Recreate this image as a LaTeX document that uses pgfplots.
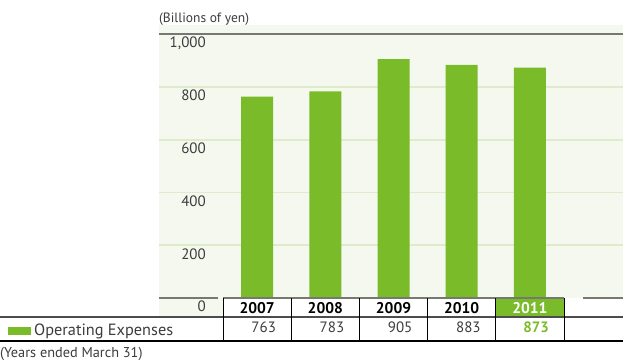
\documentclass[border=0pt]{standalone}
\usepackage{pgfplots}
\pgfplotsset{compat=1.18}
\usepackage{fontspec}
\setmainfont{PT Sans}
\definecolor{bargreen}{RGB}{122,187,42}
\definecolor{panelbg}{RGB}{245,248,239}
\definecolor{gridgreen}{RGB}{222,236,203}
\definecolor{linegray}{RGB}{120,120,115}
\definecolor{txtgray}{RGB}{60,60,60}
\begin{document}
\begin{tikzpicture}[x=1bp,y=1bp]
\path[use as bounding box] (0,0) rectangle (623,361);
\fill[panelbg] (159,63) rectangle (623,336);
\fill[panelbg] (159,44) rectangle (223,63);
\begin{axis}[at={(159bp,63bp)}, anchor=south west, scale only axis,
  width=464bp, height=264bp,
  xmin=-1.438, xmax=5.365, ymin=0, ymax=1000,
  axis line style={draw=none},
  xtick=\empty,
  ytick={200,400,600,800},
  extra y ticks={0,1000},
  extra y tick style={grid=none},
  ymajorgrids,
  grid style={gridgreen, line width=1.8bp},
  major tick length=0pt,
  /pgf/number format/.cd, 1000 sep={,}, assume math mode=true, /pgfplots/.cd,
  yticklabel style={anchor=north east, inner sep=0pt, xshift=47bp, yshift=-3bp,
    text=txtgray, font=\fontsize{15bp}{18bp}\selectfont},
  ybar, bar width=32bp,
  clip=false]
\addplot[fill=bargreen, draw=none] coordinates {(0,763) (1,783) (2,905) (3,883) (4,873)};
\end{axis}
% green header cell for 2011
\fill[bargreen] (495.8,44) rectangle (564,63);
% top line and baseline
\draw[linegray, line width=1.6bp] (159,327) -- (623,327);
\draw[linegray, line width=1.6bp] (159,63) -- (218,63);
\draw[linegray, line width=1.6bp] (223,63) -- (564,63);
\draw[linegray, line width=1.6bp] (583,63) -- (623,63);
% table lines
\draw[black!70, line width=1.2bp] (0,44) -- (623,44);
\draw[black, line width=1.2bp] (0,20) -- (623,20);
\foreach \xx in {223,291.2,359.4,427.6,495.8,564}
  \draw[black, line width=1bp] (\xx,20) -- (\xx,63);
% years
\foreach \yr [count=\i from 0] in {2007,2008,2009,2010}
  \node[anchor=base, inner sep=0pt, font=\fontsize{15.5bp}{18bp}\selectfont\bfseries] at (257.1+68.2*\i,48) {\yr};
\node[anchor=base, inner sep=0pt, text=white, font=\fontsize{15.5bp}{18bp}\selectfont\bfseries] at (529.9,48) {2011};
% values
\foreach \v [count=\i from 1] in {763,783,905,883}
  \node[anchor=base east, inner sep=0pt, text=txtgray, font=\fontsize{15bp}{18bp}\selectfont] at (223+68.2*\i-15,29) {\v};
\node[anchor=base east, inner sep=0pt, text=bargreen, font=\fontsize{15bp}{18bp}\selectfont\bfseries] at (549,29) {873};
% legend
\fill[bargreen] (8,26) rectangle (31,34.5);
\node[anchor=base west, inner sep=0pt, text=txtgray, font=\fontsize{16.3bp}{19bp}\selectfont] at (34,26) {Operating Expenses};
% notes
\node[anchor=base west, inner sep=0pt, text=txtgray, font=\fontsize{13.5bp}{16bp}\selectfont] at (159,339) {(Billions of yen)};
\node[anchor=base west, inner sep=0pt, text=txtgray, font=\fontsize{14.3bp}{16bp}\selectfont] at (0,4) {(Years ended March 31)};
\end{tikzpicture}
\end{document}
